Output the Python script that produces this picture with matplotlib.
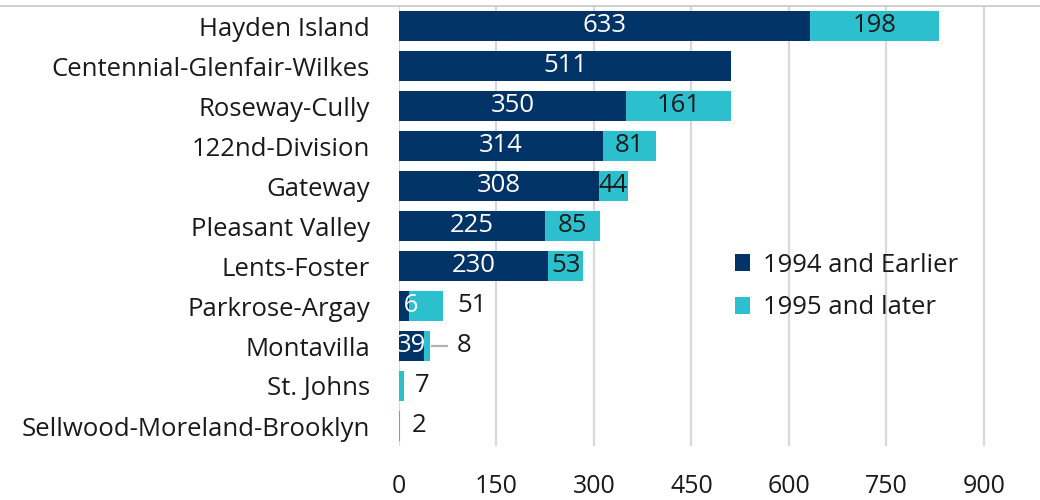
import matplotlib.pyplot as plt
import numpy as np

plt.rcParams['font.family'] = ['Open Sans', 'DejaVu Sans']

neighborhoods = ['Hayden Island', 'Centennial-Glenfair-Wilkes', 'Roseway-Cully',
                 '122nd-Division', 'Gateway', 'Pleasant Valley', 'Lents-Foster',
                 'Parkrose-Argay', 'Montavilla', 'St. Johns',
                 'Sellwood-Moreland-Brooklyn']
early = [633, 511, 350, 314, 308, 225, 230, 16, 39, 0, 0]
late = [198, 0, 161, 81, 44, 85, 53, 51, 8, 7, 2]
series_names = ['1994 and Earlier', '1995 and later']
xticks = [0, 150, 300, 450, 600, 750, 900]

navy = '#003366'
cyan = '#2cbfce'
ink = '#1a1a1a'
fs = 18.5

fig = plt.figure(figsize=(10.4, 5.0), dpi=100)
ax = fig.add_axes([399/1040, 54/500, 601/1040, 440/500])

y = np.arange(len(neighborhoods))
ax.barh(y, early, height=0.77, color=navy, label=series_names[0], zorder=3)
ax.barh(y, late, left=early, height=0.77, color=cyan, label=series_names[1], zorder=3)

ax.set_ylim(len(neighborhoods) - 0.5, -0.5)
ax.set_xlim(0, 925)
ax.set_yticks(y)
ax.set_yticklabels(neighborhoods, fontsize=fs, color=ink)
ax.set_xticks(xticks)
ax.set_xticklabels([str(t) for t in xticks], fontsize=18, color=ink)
ax.tick_params(axis='both', length=0)
ax.tick_params(axis='x', pad=20)
ax.tick_params(axis='y', pad=21)
ax.grid(axis='x', color='#d9d9d9', linewidth=1.6, zorder=0)
for s in ax.spines.values():
    s.set_visible(False)

for i, (a, b) in enumerate(zip(early, late)):
    # values of the older segment sit inside the bar in white
    if a > 0:
        ax.text(a / 2, i, str(a), ha='center', va='center', color='white',
                fontsize=fs, zorder=4, clip_on=True)
    if b == 0:
        continue
    end = a + b
    if b >= 40 and a > 30:
        ax.text(a + b / 2, i, str(b), ha='center', va='center', color=ink,
                fontsize=fs, zorder=4)
    elif i == 8:
        # short leader line out to the label
        ax.plot([end + 4, end + 27], [i, i], color='#b3b3b3', lw=1.6, zorder=4)
        ax.text(end + 42, i, str(b), ha='left', va='center', color=ink, fontsize=fs)
    elif i == 7:
        ax.text(end + 22, i, str(b), ha='left', va='center', color=ink, fontsize=fs)
    else:
        ax.text(end + 17, i, str(b), ha='left', va='center', color=ink, fontsize=fs)

ax.legend(loc='center left', bbox_to_anchor=(0.52, 0.3625), frameon=False,
          fontsize=fs, handlelength=0.6, handleheight=0.6, handletextpad=0.5,
          labelspacing=0.7, labelcolor=ink)

# rule under the heading area
fig.add_artist(plt.Line2D([0, 1], [1 - 6/500, 1 - 6/500], color='#c8c8c8', lw=1.2))

fig.savefig('out.png', dpi=100)
